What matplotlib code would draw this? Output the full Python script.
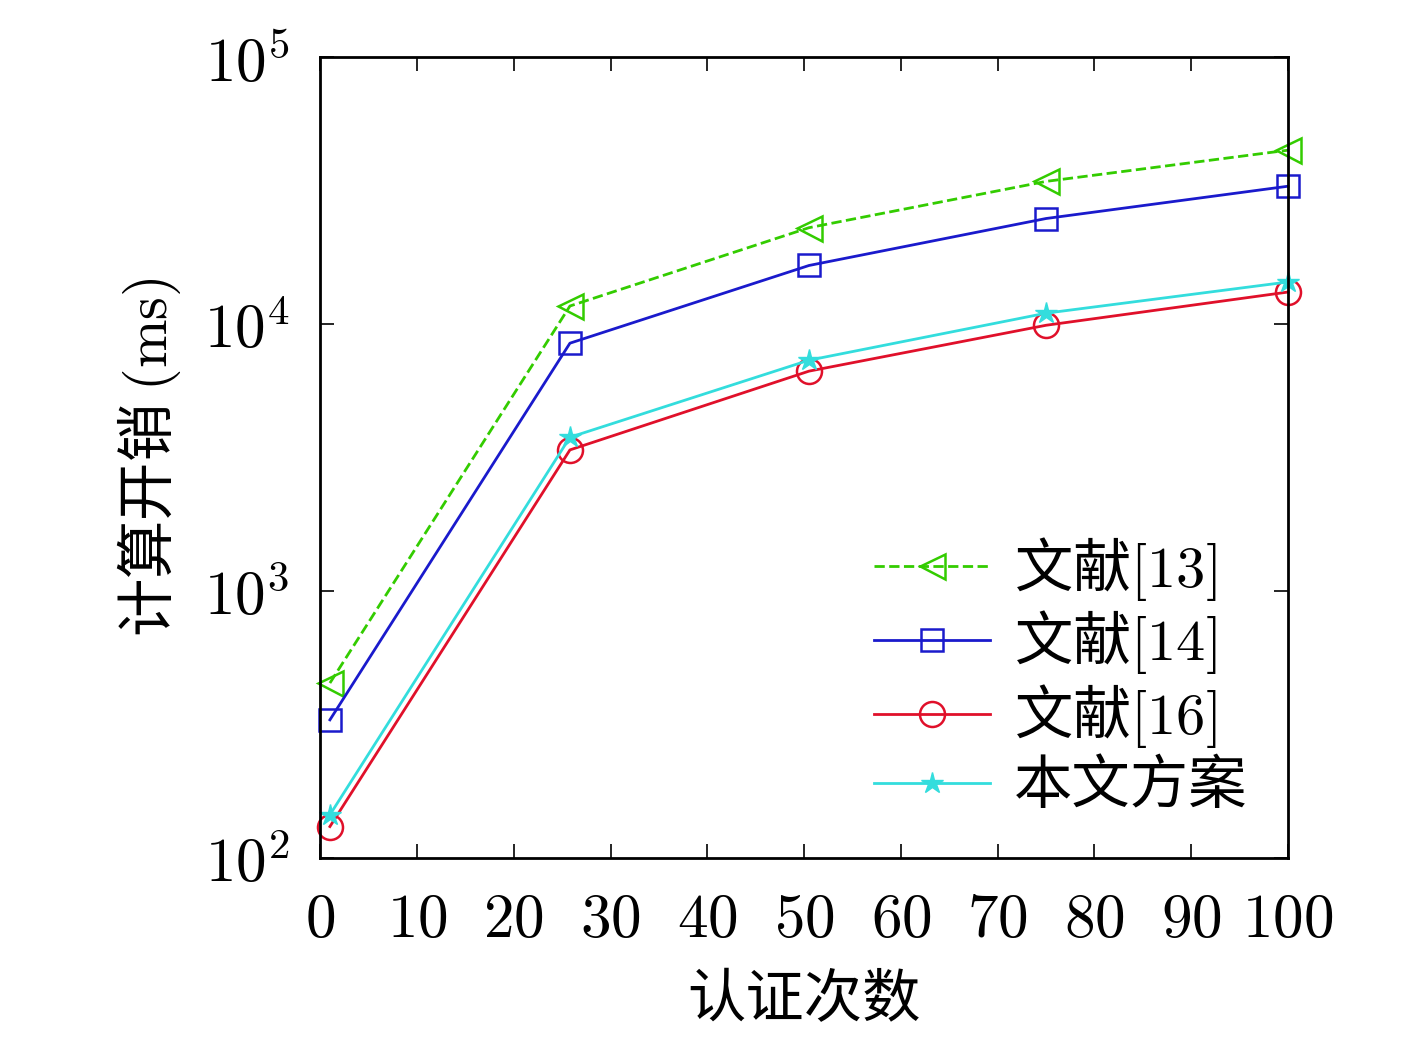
import matplotlib
matplotlib.use('Agg')
import matplotlib.pyplot as plt

# 数据
x = [1, 25.8, 50.5, 75, 100]
ref13 = [452, 11700, 23000, 34300, 44900]
ref14 = [329, 8490, 16600, 24900, 32900]
ref16 = [131, 3380, 6670, 9910, 13200]
ours = [145, 3770, 7330, 11000, 14400]

plt.rcParams['mathtext.fontset'] = 'cm'
plt.rcParams['font.family'] = ['Noto Sans CJK SC', 'DejaVu Sans']

fig = plt.figure(figsize=(14.17, 10.63), dpi=100)
ax = fig.add_axes([0.226, 0.193, 0.683, 0.753])

kw = dict(mfc='none', mew=1.8, lw=2, clip_on=False)
ax.plot(x, ref13, '--', color='#33cc00', marker='<', ms=18, label=r'文献$\mathrm{[13]}$', **kw)
ax.plot(x, ref14, '-', color='#1a1acc', marker='s', ms=16, label=r'文献$\mathrm{[14]}$', **kw)
ax.plot(x, ref16, '-', color='#e0102a', marker='o', ms=18, label=r'文献$\mathrm{[16]}$', **kw)
ax.plot(x, ours, '-', color='#33dddd', marker='*', ms=16, lw=2, clip_on=False, label='本文方案')

ax.set_yscale('log')
ax.set_xlim(0, 100)
ax.set_ylim(100, 1e5)
ax.set_xticks(range(0, 101, 10))
ax.set_xticklabels([r'$\mathrm{%d}$' % v for v in range(0, 101, 10)])
ax.set_yticks([1e2, 1e3, 1e4, 1e5])
ax.set_yticklabels([r'$10^{%d}$' % v for v in range(2, 6)])
ax.minorticks_off()
ax.tick_params(labelsize=44, direction='in', length=10, width=1.2, top=True, right=True, pad=22)
for s in ax.spines.values():
    s.set_linewidth(2)

ax.set_xlabel(r'认证次数', fontsize=42, labelpad=14)
ax.set_ylabel(r'计算开销 $\mathrm{(ms)}$', fontsize=42, labelpad=15)
ax.legend(loc='lower right', fontsize=42, frameon=False, handlelength=2.0,
          handletextpad=0.4, labelspacing=0.1, borderaxespad=0.3)

plt.savefig('out.png')
